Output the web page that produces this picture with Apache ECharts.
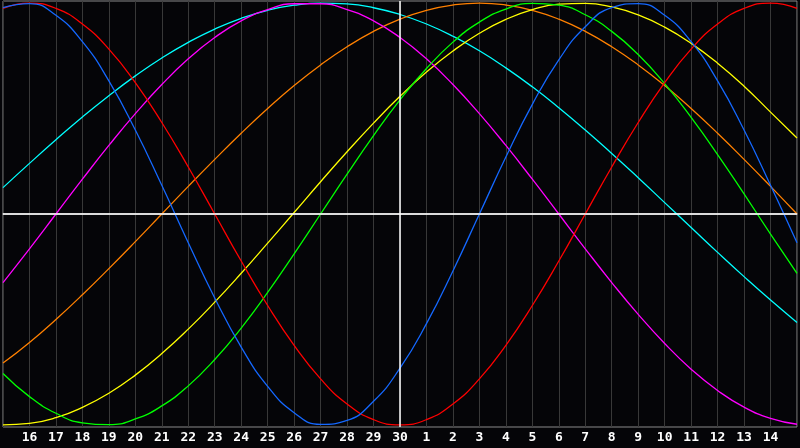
<!DOCTYPE html>
<html>
<head>
<meta charset="utf-8">
<script src="https://cdn.jsdelivr.net/npm/echarts@6/dist/echarts.min.js"></script>
<style>
html,body{margin:0;padding:0;background:#050508;}
#c{width:800px;height:448px;}
</style>
</head>
<body>
<div id="c"></div>
<script>
const days = ['15','16','17','18','19','20','21','22','23','24','25','26','27','28','29','30',
  '1','2','3','4','5','6','7','8','9','10','11','12','13','14','15'];

const physical = [0.979,0.998,0.942,0.817,0.631,0.398,0.136,-0.136,-0.398,-0.631,-0.817,-0.942,-0.998,-0.979,-0.888,-0.731,-0.520,-0.270,0.000,0.270,0.520,0.731,0.888,0.979,0.998,0.942,0.817,0.631,0.398,0.136,-0.136];
const emotional = [0.975,1.000,0.975,0.901,0.782,0.623,0.434,0.223,0.000,-0.223,-0.434,-0.623,-0.782,-0.901,-0.975,-1.000,-0.975,-0.901,-0.782,-0.623,-0.434,-0.223,0.000,0.223,0.434,0.623,0.782,0.901,0.975,1.000,0.975];
const intellectual = [-0.756,-0.866,-0.945,-0.990,-0.999,-0.972,-0.910,-0.815,-0.690,-0.541,-0.372,-0.189,0.000,0.189,0.372,0.541,0.690,0.815,0.910,0.972,0.999,0.990,0.945,0.866,0.756,0.618,0.458,0.282,0.095,-0.095,-0.282];
const intuitive = [-0.325,-0.165,0.000,0.165,0.325,0.476,0.614,0.736,0.837,0.916,0.969,0.997,0.997,0.969,0.916,0.837,0.736,0.614,0.476,0.325,0.165,0.000,-0.165,-0.325,-0.476,-0.614,-0.736,-0.837,-0.916,-0.969,-0.997];
const aesthetic = [-1.000,-0.993,-0.966,-0.917,-0.850,-0.764,-0.662,-0.546,-0.418,-0.281,-0.138,0.007,0.153,0.295,0.431,0.558,0.673,0.773,0.857,0.923,0.969,0.995,0.999,0.982,0.944,0.886,0.809,0.715,0.606,0.483,0.360];
const awareness = [-0.707,-0.609,-0.500,-0.383,-0.259,-0.131,0.000,0.131,0.259,0.383,0.500,0.609,0.707,0.793,0.866,0.924,0.966,0.991,1.000,0.991,0.966,0.924,0.866,0.793,0.707,0.609,0.500,0.383,0.259,0.131,0.000];
const spiritual = [0.125,0.240,0.352,0.460,0.561,0.655,0.740,0.814,0.877,0.928,0.966,0.990,1.000,0.996,0.978,0.946,0.901,0.843,0.774,0.693,0.603,0.504,0.398,0.287,0.172,0.054,-0.064,-0.182,-0.297,-0.408,-0.514];

const seriesDefs = [
  {name:'Spiritual', data:spiritual, color:'#00ffff'},
  {name:'Awareness', data:awareness, color:'#ff8000'},
  {name:'Aesthetic', data:aesthetic, color:'#ffff00'},
  {name:'Intuitive', data:intuitive, color:'#ff00ff'},
  {name:'Intellectual', data:intellectual, color:'#00ff00'},
  {name:'Emotional', data:emotional, color:'#ff0000'},
  {name:'Physical', data:physical, color:'#1468ff'}
];

const chart = echarts.init(document.getElementById('c'), null, {renderer:'canvas'});
const series = seriesDefs.map(s => ({
  name: s.name,
  type: 'line',
  data: s.data,
  smooth: 0.5,
  symbol: 'none',
  lineStyle: {color: s.color, width: 1.3},
  itemStyle: {color: s.color},
  silent: true,
  z: 3
}));
series.push({
  type: 'line',
  data: [],
  silent: true,
  z: 2,
  markLine: {
    silent: true,
    symbol: 'none',
    label: {show: false},
    animation: false,
    lineStyle: {color: '#ffffff', width: 1.5, type: 'solid'},
    data: [{yAxis: 0}, {xAxis: 15}]
  }
});

chart.setOption({
  backgroundColor: '#050508',
  animation: false,
  grid: {left: 1, right: 1, top: 1, bottom: 21, show: true, borderColor: '#8a8a8a', borderWidth: 1, backgroundColor: 'transparent'},
  xAxis: {
    type: 'category',
    data: days,
    boundaryGap: false,
    axisLine: {show: true, lineStyle: {color: '#9a9a9a', width: 1.5}},
    axisTick: {show: false},
    splitLine: {show: true, lineStyle: {color: '#383838', width: 1}},
    axisLabel: {
      interval: 0,
      color: '#ffffff',
      fontFamily: 'DejaVu Sans Mono',
      fontWeight: 'bold',
      fontSize: 13,
      margin: 4,
      formatter: (v, i) => (i === 0 || i === days.length - 1) ? '' : v
    }
  },
  yAxis: {
    type: 'value',
    min: -1.01,
    max: 1.01,
    axisLine: {show: false},
    axisTick: {show: false},
    axisLabel: {show: false},
    splitLine: {show: false}
  },
  series: series
});
</script>
</body>
</html>
